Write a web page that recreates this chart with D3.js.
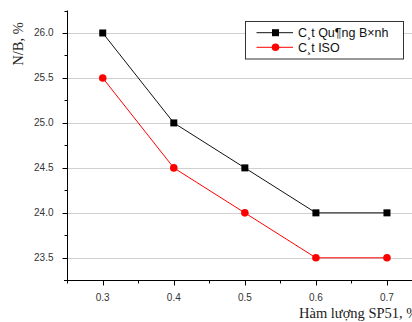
<!DOCTYPE html>
<html>
<head>
<meta charset="utf-8">
<script src="https://cdn.jsdelivr.net/npm/d3@7"></script>
<style>
body{margin:0;background:#fff;}
svg{display:block;overflow:hidden;}
</style>
</head>
<body>
<div id="chart"></div>
<script>
var xValues=[0.3,0.4,0.5,0.6,0.7];
var seriesNames=["C\u00b8t Qu\u00b6ng B\u00d7nh","C\u00b8t ISO"];
var quangBinh=[26.0,25.0,24.5,24.0,24.0];
var iso=[25.5,24.5,24.0,23.5,23.5];
var xTicks=[0.3,0.4,0.5,0.6,0.7];
var yTicks=[23.5,24.0,24.5,25.0,25.5,26.0];

var width=412, height=322;

var svg=d3.select("#chart").append("svg")
    .attr("width",width)
    .attr("height",height);

var x=d3.scaleLinear().domain([0.25,0.75]).range([67.2,422.5]);
var y=d3.scaleLinear().domain([23.25,26.25]).range([280.3,10.5]);

// grid lines
svg.append("g").selectAll("line")
    .data(yTicks)
    .enter().append("line")
    .attr("x1",x(0.25)).attr("x2",width)
    .attr("y1",d=>Math.round(y(d))+0.5).attr("y2",d=>Math.round(y(d))+0.5)
    .attr("stroke","#d0d0d0").attr("stroke-width",1);

// minor ticks
var minorY=d3.range(23.25,26.3,0.5);
var minorX=d3.range(0.25,0.76,0.1);

var yAxis=svg.append("g").attr("transform","translate(67.5,0)");
yAxis.append("line").attr("x1",0).attr("x2",0).attr("y1",y(26.25)).attr("y2",y(23.25)+1).attr("stroke","#000");
yAxis.selectAll(".maj").data(yTicks).enter().append("line")
    .attr("x1",-5).attr("x2",0)
    .attr("y1",d=>Math.round(y(d))+0.5).attr("y2",d=>Math.round(y(d))+0.5)
    .attr("stroke","#000");
yAxis.selectAll(".min").data(minorY).enter().append("line")
    .attr("x1",-3).attr("x2",0)
    .attr("y1",d=>Math.round(y(d))+0.5).attr("y2",d=>Math.round(y(d))+0.5)
    .attr("stroke","#000");
yAxis.selectAll("text").data(yTicks).enter().append("text")
    .attr("x",-14).attr("y",d=>y(d)+3.5)
    .attr("text-anchor","end")
    .style("font-family","Liberation Sans, Arial, sans-serif")
    .style("font-size","10px").style("fill","#333")
    .text(d=>d.toFixed(1));

var xAxis=svg.append("g").attr("transform","translate(0,280.5)");
xAxis.append("line").attr("x1",64).attr("x2",width).attr("y1",0).attr("y2",0).attr("stroke","#000");
xAxis.selectAll(".maj").data(xTicks).enter().append("line")
    .attr("x1",d=>Math.round(x(d))+0.5).attr("x2",d=>Math.round(x(d))+0.5)
    .attr("y1",0).attr("y2",5).attr("stroke","#000");
xAxis.selectAll(".min").data(minorX).enter().append("line")
    .attr("x1",d=>Math.round(x(d))+0.5).attr("x2",d=>Math.round(x(d))+0.5)
    .attr("y1",0).attr("y2",3).attr("stroke","#000");
xAxis.selectAll("text").data(xTicks).enter().append("text")
    .attr("x",d=>x(d)).attr("y",20)
    .attr("text-anchor","middle")
    .style("font-family","Liberation Sans, Arial, sans-serif")
    .style("font-size","10px").style("fill","#333")
    .text(d=>d.toFixed(1));

// axis titles
svg.append("text")
    .attr("x",299).attr("y",318)
    .style("font-family","Liberation Serif, Times New Roman, serif")
    .style("font-size","14.5px").style("fill","#222")
    .text("H\u00e0m l\u01b0\u1ee3ng SP51, %");

svg.append("text")
    .attr("transform","translate(23,44) rotate(-90)")
    .attr("text-anchor","middle")
    .style("font-family","Liberation Serif, Times New Roman, serif")
    .style("font-size","14.5px").style("fill","#222")
    .text("N/B, %");

// series
var line=d3.line().x((d,i)=>x(xValues[i])).y(d=>y(d));

svg.append("path").datum(quangBinh)
    .attr("d",line).attr("fill","none").attr("stroke","#111").attr("stroke-width",1);
svg.append("path").datum(iso)
    .attr("d",line).attr("fill","none").attr("stroke","#f00").attr("stroke-width",1);

svg.selectAll(".sq").data(quangBinh).enter().append("rect")
    .attr("x",(d,i)=>x(xValues[i])-3.5).attr("y",d=>y(d)-3.5)
    .attr("width",7).attr("height",7).attr("fill","#000");
svg.selectAll(".dot").data(iso).enter().append("circle")
    .attr("cx",(d,i)=>x(xValues[i])).attr("cy",d=>y(d))
    .attr("r",3.8).attr("fill","#f00");

// legend
var legend=svg.append("g");
legend.append("rect")
    .attr("x",245.5).attr("y",21.5).attr("width",158).attr("height",37.5)
    .attr("fill","#fff").attr("stroke","#333").attr("stroke-width",1);
var rows=legend.selectAll(".row").data(seriesNames).enter().append("g")
    .attr("transform",(d,i)=>"translate(0,"+(32.7+i*14.6)+")");
rows.append("line").attr("x1",256.5).attr("x2",293).attr("y1",0).attr("y2",0)
    .attr("stroke",(d,i)=>i?"#f00":"#111");
rows.filter((d,i)=>i==0).append("rect")
    .attr("x",272).attr("y",-3.5).attr("width",7).attr("height",7).attr("fill","#000");
rows.filter((d,i)=>i==1).append("circle")
    .attr("cx",275.5).attr("cy",0).attr("r",3.8).attr("fill","#f00");
rows.append("text").attr("x",298).attr("y",4.5)
    .style("font-family","Liberation Sans, Arial, sans-serif")
    .style("font-size","12.5px").style("fill","#111")
    .text(d=>d);
</script>
</body>
</html>
